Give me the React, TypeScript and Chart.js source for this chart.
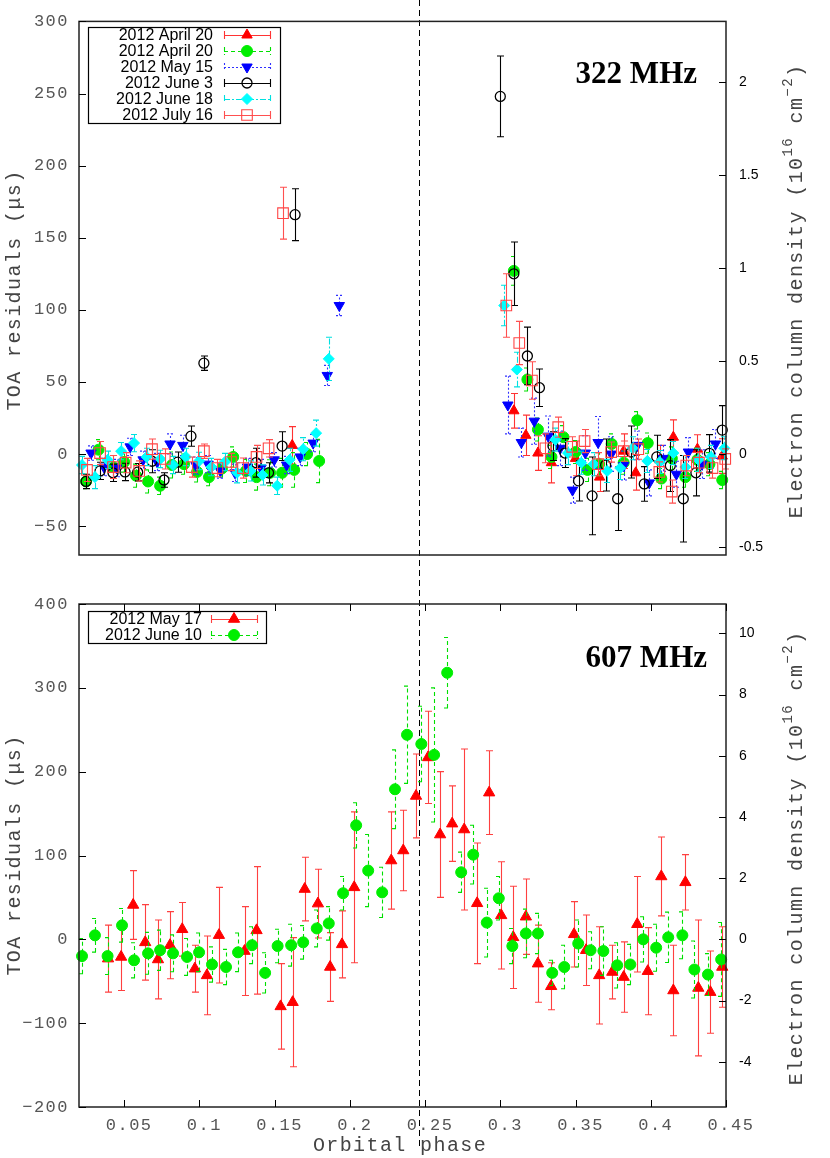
import React, { useEffect, useRef } from 'react';
import { Chart, registerables } from 'chart.js';
Chart.register(...registerables);

// ---------------- TOP PANEL (322 MHz) ----------------
const TOP_NAMES = ['2012 April 20', '2012 April 20', '2012 May 15', '2012 June 3', '2012 June 18', '2012 July 16'];

const T_APR20A_X = [0.1617, 0.309, 0.317, 0.325, 0.334, 0.350, 0.366, 0.382, 0.390, 0.406, 0.415, 0.431, 0.4475];
const T_APR20A_Y = [6, 30, 13, 0.7, -6, -3, -16, 2, -13, -4, 11.7, 3.4, -1.4];
const T_APR20A_E = [13, 12, 14, 12, 14, 12, 10, 12, 12, 10, 12, 10, 12];

const T_APR20B_X = [0.0247, 0.033, 0.0426, 0.050, 0.0579, 0.0659, 0.0739, 0.0818, 0.0898, 0.0985, 0.1064, 0.115, 0.1225, 0.131, 0.138, 0.147, 0.155, 0.163, 0.1716, 0.1796,
  0.309, 0.318, 0.325, 0.334, 0.342, 0.350, 0.358, 0.3657, 0.374, 0.382, 0.391, 0.398, 0.407, 0.414, 0.423, 0.431, 0.439, 0.4475];
const T_APR20B_Y = [-19, 3, -9, -5.5, -15, -19, -22, -7.6, -7, -12.4, -16, -10, -2, -11.7, -16, -13, -13, -11, 0, -4.8,
  127, 51.7, 17, -2, 11.7, 1.4, -11, -7, 7, -6, 23.4, 7.6, -17, -3, -16, -4, -7, -18];
const T_APR20B_E = [5, 7, 8, 7, 8, 8, 6, 9, 7, 7, 6, 6, 7, 8, 9, 9, 10, 12, 8, 15,
  10, 8, 8, 8, 8, 8, 8, 8, 7, 8, 6, 7, 7, 8, 7, 8, 8, 6];

const T_MAY15_X = [0.028, 0.0366, 0.045, 0.054, 0.0626, 0.072, 0.0805, 0.089, 0.0978, 0.1058, 0.114, 0.1237, 0.132, 0.141, 0.1497, 0.158, 0.167, 0.1756, 0.185, 0.193,
  0.305, 0.314, 0.3226, 0.3318, 0.3398, 0.348, 0.3565, 0.365, 0.3737, 0.382, 0.391, 0.399, 0.408, 0.417, 0.425, 0.434, 0.443];
const T_MAY15_Y = [0.7, -9, -9.7, 5, -4, -5.5, 7, 6, -8, -7, -11.7, -13, -9, -9.7, -4, -7.6, -2, 7.6, 54.5, 103,
  34, 8, 22.8, 12.4, 4, -25, 0.7, 8, 0, -8, 6, -20, -3, -14, 1.4, -7, 7];
const T_MAY15_E = [5, 6, 6, 6, 6, 6, 7, 7, 6, 6, 5, 6, 6, 6, 5, 6, 6, 6, 7, 7,
  20, 10, 16, 14, 12, 9, 12, 18, 12, 10, 10, 9, 9, 9, 10, 10, 10];

const T_JUN3_X = [0.0247, 0.034, 0.0426, 0.0506, 0.059, 0.0685, 0.0765, 0.0856, 0.0944, 0.103, 0.1377, 0.146, 0.155, 0.1636,
  0.300, 0.309, 0.318, 0.326, 0.335, 0.343, 0.352, 0.361, 0.370, 0.378, 0.387, 0.3957, 0.404, 0.413, 0.4216, 0.430, 0.439, 0.4475];
const T_JUN3_Y = [-19, -11.7, -13, -12.4, -12.6, -5, -18, -5.6, 12.4, 63, -6, -13, 5.5, 166,
  248, 125, 68, 46, 5.5, 0.7, -18.6, -29, -7.6, -31, 1.4, -20.7, -2, -8, -31, -13, 0.5, 16.6];
const T_JUN3_E = [5, 6, 6, 6, 6, 8, 5, 7, 7, 5, 10, 7, 10, 18,
  28, 22, 20, 13, 10, 10, 14, 27, 18, 22, 18, 12, 15, 18, 30, 16, 13, 17];

const T_JUN18_X = [0.022, 0.0306, 0.039, 0.048, 0.0566, 0.065, 0.074, 0.0825, 0.091, 0.0998, 0.108, 0.117, 0.125, 0.134, 0.142, 0.1517, 0.160, 0.169, 0.1776, 0.186,
  0.3026, 0.311, 0.3366, 0.345, 0.3538, 0.362, 0.371, 0.3797, 0.388, 0.3977, 0.406, 0.415, 0.423, 0.4316, 0.440, 0.4489];
const T_JUN18_Y = [-7.6, -16, -4, 2, 7.6, -2, -3.4, -7.6, -2, -4.8, -9, -5.5, -13, -11.7, -14.5, -22, -4, 3.4, 14.5, 66,
  103, 58.6, 10, 0.7, -6, -7, -11.7, -9.7, 4, -4.8, -5.5, 0.7, -9, -4, -2, 4];
const T_JUN18_E = [6, 8, 6, 6, 6, 6, 6, 6, 6, 6, 6, 6, 7, 7, 7, 6, 8, 8, 9, 15,
  14, 12, 8, 8, 8, 8, 8, 8, 8, 8, 8, 8, 8, 8, 8, 8];

const T_JUL16_X = [0.0253, 0.034, 0.0426, 0.051, 0.060, 0.0685, 0.077, 0.095, 0.103, 0.112, 0.121, 0.129, 0.138, 0.146, 0.1556,
  0.304, 0.3126, 0.321, 0.330, 0.3385, 0.3478, 0.356, 0.365, 0.3737, 0.382, 0.3917, 0.4057, 0.414, 0.4236, 0.432, 0.441, 0.4495];
const T_JUL16_Y = [-11, 0.7, -9, -6, -11.7, 3.4, -3.4, -9, 2, -9.7, -5.5, -9.7, -2, 4, 167,
  103, 77, 51, 4, 18.6, 5, 9, -7, 1.4, 2, 3.4, -12.4, -26, -8, -6, -9.7, -3.4];
const T_JUL16_E = [8, 8, 8, 7, 7, 7, 7, 7, 5, 6, 6, 7, 8, 6, 18,
  22, 15, 13, 10, 7, 7, 8, 8, 7, 7, 7, 7, 8, 7, 7, 7, 7];

const TOP_LEFT_TICKS = [-50, 0, 50, 100, 150, 200, 250, 300];
const TOP_LEFT_LABELS = ['\u221250', '0', '50', '100', '150', '200', '250', '300'];
const TOP_RIGHT_TICKS = [-0.5, 0, 0.5, 1, 1.5, 2];
const TOP_RIGHT_LABELS = ['-0.5', '0', '0.5', '1', '1.5', '2'];
const TOP_Y_MIN = -70;
const TOP_Y_MAX = 300;
const TOP_DENSITY_SCALE = 129; // µs per 10^16 cm^-2

// ---------------- BOTTOM PANEL (607 MHz) ----------------
const BOT_NAMES = ['2012 May 17', '2012 June 10'];

const B_MAY17_X = [0.0393, 0.048, 0.056, 0.064, 0.0725, 0.0805, 0.0886, 0.097, 0.105, 0.113, 0.130, 0.138, 0.154, 0.162, 0.170, 0.1788, 0.1869, 0.1948, 0.2029,
  0.2275, 0.2355, 0.244, 0.252, 0.260, 0.268, 0.276, 0.2846, 0.2926, 0.3006, 0.3086, 0.317, 0.325, 0.3338, 0.349, 0.357, 0.3657, 0.3744, 0.382, 0.391, 0.398,
  0.407, 0.415, 0.423, 0.4316, 0.4396, 0.4475];
const B_MAY17_Y = [-23, -21, 41, -3.6, -24, -7, 12, -35, -43, 5, -14, 10.7, -80, -75, 60, 42.6, -33, -6, 62,
  94, 106, 171, 217, 125, 138, 131, 43, 175, 28.6, 2.4, 27, -29, -56, 6, -13, -43, -39, -45, 18, -38,
  75, -61, 68, -58, -63, -33];
const B_MAY17_E = [40, 40, 41, 45, 47, 40, 32, 28, 47, 57, 53, 76, 51, 77, 38, 41, 41, 40, 90,
  58, 48, 50, 55, 75, 45, 96, 72, 50, 64, 61, 45, 46, 28, 39, 42, 58, 32, 42, 57, 52,
  47, 54, 33, 81, 49, 48];

const B_JUN10_X = [0.022, 0.0306, 0.039, 0.0486, 0.0566, 0.0659, 0.0739, 0.0825, 0.0918, 0.0998, 0.1084, 0.1177, 0.1257, 0.135, 0.1437, 0.152, 0.161, 0.169, 0.178, 0.186,
  0.1955, 0.2042, 0.2122, 0.2215, 0.230, 0.238, 0.2475, 0.256, 0.2647, 0.274, 0.282, 0.291, 0.299, 0.308, 0.317, 0.325, 0.3345, 0.3425, 0.3518, 0.360,
  0.3685, 0.3777, 0.3864, 0.395, 0.4036, 0.4116, 0.421, 0.429, 0.438, 0.4468];
const B_JUN10_Y = [-20, 4.8, -20, 16.7, -25, -16.7, -13, -16.7, -21, -15.5, -30, -33, -15.5, -7, -40, -8, -7, -3.6, 13, 19,
  55, 136, 82, 56, 179, 244, 233, 220, 318, 80, 101, 20, 49, -8, 7, 7, -40, -33, -5, -13,
  -14, -31, -30, 0, -10, 2.4, 4.8, -36, -42, -24];
const B_JUN10_E = [21, 20, 22, 20, 21, 25, 24, 22, 22, 23, 21, 21, 23, 22, 24, 20, 25, 20, 22, 20,
  20, 27, 43, 30, 47, 58, 45, 80, 42, 24, 35, 41, 26, 21, 29, 24, 15, 26, 28, 22,
  29, 27, 24, 27, 28, 30, 28, 34, 25, 44];

const BOT_LEFT_TICKS = [-200, -100, 0, 100, 200, 300, 400];
const BOT_LEFT_LABELS = ['\u2212200', '\u2212100', '0', '100', '200', '300', '400'];
const BOT_RIGHT_TICKS = [-4, -2, 0, 2, 4, 6, 8, 10];
const BOT_RIGHT_LABELS = ['-4', '-2', '0', '2', '4', '6', '8', '10'];
const BOT_Y_MIN = -200;
const BOT_Y_MAX = 400;
const BOT_DENSITY_SCALE = 36.5;

const X_MIN = 0.02;
const X_MAX = 0.45;
const X_TICKS = [0.05, 0.1, 0.15, 0.2, 0.25, 0.3, 0.35, 0.4, 0.45];
const X_TICK_LABELS = ['0.05', '0.1', '0.15', '0.2', '0.25', '0.3', '0.35', '0.4', '0.45'];
const CONJUNCTION_PHASE = 0.246;

// ---------------- styles ----------------
const TOP_STYLES = [
  { style: 'triangle', rot: 0, r: 6, fill: '#ff0000', stroke: '#ff0000', lw: 1, err: 'rgba(255,0,0,0.8)', dash: [] },
  { style: 'circle', rot: 0, r: 5.5, fill: '#00ee00', stroke: '#00ee00', lw: 1, err: '#00e000', dash: [4, 3] },
  { style: 'triangle', rot: 180, r: 6, fill: '#0000ff', stroke: '#0000ff', lw: 1, err: '#3030ff', dash: [2, 2] },
  { style: 'circle', rot: 0, r: 5, fill: null, stroke: '#000000', lw: 1.3, err: '#000000', dash: [] },
  { style: 'rectRot', rot: 0, r: 5.5, fill: '#00ffff', stroke: '#00ffff', lw: 1, err: '#00e0e0', dash: [6, 2, 2, 2] },
  { style: 'rect', rot: 0, r: 7.5, fill: null, stroke: '#ff4545', lw: 1.1, err: '#ff5050', dash: [] },
];
const BOT_STYLES = [
  { style: 'triangle', rot: 0, r: 6.5, fill: '#ff0000', stroke: '#ff0000', lw: 1, err: 'rgba(255,0,0,0.75)', dash: [] },
  { style: 'circle', rot: 0, r: 5.5, fill: '#00ee00', stroke: '#00ee00', lw: 1, err: '#00e000', dash: [4, 3] },
];

const MONO = '"Liberation Mono", "DejaVu Sans Mono", monospace';
const SANS = '"Liberation Sans", Arial, sans-serif';
const SERIF = '"Liberation Serif", "Times New Roman", serif';

function drawMarker(ctx, st, x, y) {
  const r = st.r;
  ctx.beginPath();
  if (st.style === 'circle') {
    ctx.arc(x, y, r, 0, Math.PI * 2);
  } else if (st.style === 'rect') {
    const s = r * Math.SQRT1_2;
    ctx.rect(x - s, y - s, 2 * s, 2 * s);
  } else if (st.style === 'rectRot') {
    ctx.moveTo(x, y - r); ctx.lineTo(x + r, y); ctx.lineTo(x, y + r); ctx.lineTo(x - r, y); ctx.closePath();
  } else {
    let a = (st.rot * Math.PI) / 180;
    ctx.moveTo(x + Math.sin(a) * r, y - Math.cos(a) * r);
    for (let k = 0; k < 2; k++) { a += (2 * Math.PI) / 3; ctx.lineTo(x + Math.sin(a) * r, y - Math.cos(a) * r); }
    ctx.closePath();
  }
  if (st.fill) { ctx.fillStyle = st.fill; ctx.fill(); }
  ctx.strokeStyle = st.stroke; ctx.lineWidth = st.lw; ctx.setLineDash([]); ctx.stroke();
}

const errorBarPlugin = {
  id: 'errbars',
  beforeDatasetDraw(chart, args) {
    const ds = chart.data.datasets[args.index];
    const meta = args.meta;
    const ctx = chart.ctx;
    const xs = meta.xScale, ys = meta.yScale;
    ctx.save();
    ctx.strokeStyle = ds.errColor;
    ctx.lineWidth = 1.1;
    ctx.setLineDash(ds.errDash);
    ds.data.forEach((p, i) => {
      const e = ds.errs[i];
      const x = Math.round(xs.getPixelForValue(p.x)) + 0.5;
      const y1 = ys.getPixelForValue(p.y - e);
      const y2 = ys.getPixelForValue(p.y + e);
      ctx.beginPath();
      ctx.moveTo(x, y1); ctx.lineTo(x, y2);
      ctx.moveTo(x - 3.5, y1); ctx.lineTo(x + 3.5, y1);
      ctx.moveTo(x - 3.5, y2); ctx.lineTo(x + 3.5, y2);
      ctx.stroke();
    });
    ctx.restore();
  },
};

function makeDecor(cfg) {
  return {
    id: 'decor',
    beforeDraw(chart) {
      ['x', 'y'].forEach((id) => {
        const s = chart.scales[id];
        if (s && !s.__spaced) {
          const orig = s.drawLabels.bind(s);
          s.drawLabels = (area) => {
            const ctx = chart.ctx;
            const prev = ctx.letterSpacing;
            ctx.letterSpacing = '1.5px';
            orig(area);
            ctx.letterSpacing = prev || '0px';
          };
          s.__spaced = true;
        }
      });
    },
    beforeDatasetsDraw(chart) {
      const ctx = chart.ctx;
      const x = Math.round(chart.scales.x.getPixelForValue(cfg.vline)) + 0.5;
      ctx.save();
      ctx.strokeStyle = '#000';
      ctx.lineWidth = 1;
      ctx.setLineDash([6, 4]);
      ctx.beginPath();
      ctx.moveTo(x, cfg.vy0); ctx.lineTo(x, cfg.vy1);
      ctx.stroke();
      ctx.restore();
    },
    afterDraw(chart) {
      const ctx = chart.ctx;
      const a = chart.chartArea;
      ctx.save();
      ctx.letterSpacing = '0px';
      // frame
      ctx.strokeStyle = '#222';
      ctx.lineWidth = 1.5;
      ctx.setLineDash([]);
      ctx.strokeRect(a.left, a.top, a.right - a.left, a.bottom - a.top);
      // inward ticks
      ctx.lineWidth = 1;
      ctx.strokeStyle = '#000';
      ctx.beginPath();
      chart.scales.y.ticks.forEach((t) => {
        const y = Math.round(chart.scales.y.getPixelForValue(t.value)) + 0.5;
        ctx.moveTo(a.left, y); ctx.lineTo(a.left + 7, y);
      });
      chart.scales.y2.ticks.forEach((t) => {
        const y = Math.round(chart.scales.y2.getPixelForValue(t.value)) + 0.5;
        ctx.moveTo(a.right - 7, y); ctx.lineTo(a.right, y);
      });
      if (cfg.xTicks) {
        chart.scales.x.ticks.forEach((t) => {
          const x = Math.round(chart.scales.x.getPixelForValue(t.value)) + 0.5;
          ctx.moveTo(x, a.bottom); ctx.lineTo(x, a.bottom - 7);
          ctx.moveTo(x, a.top); ctx.lineTo(x, a.top + 7);
        });
      }
      ctx.stroke();

      // legend
      const L = cfg.legend;
      ctx.fillStyle = '#fff';
      ctx.fillRect(L.box[0], L.box[1], L.box[2] - L.box[0], L.box[3] - L.box[1]);
      ctx.strokeStyle = '#000';
      ctx.lineWidth = 1.2;
      ctx.strokeRect(L.box[0] + 0.5, L.box[1] + 0.5, L.box[2] - L.box[0], L.box[3] - L.box[1]);
      L.names.forEach((name, i) => {
        const st = L.styles[i];
        const y = L.rows[i];
        ctx.fillStyle = '#000';
        ctx.font = '16px ' + SANS;
        ctx.textAlign = 'right';
        ctx.textBaseline = 'middle';
        ctx.fillText(name, L.textRight, y + 1);
        ctx.strokeStyle = st.err;
        ctx.lineWidth = 1.1;
        ctx.setLineDash(st.dash);
        ctx.beginPath();
        ctx.moveTo(L.sx1, y + 0.5); ctx.lineTo(L.sx2, y + 0.5);
        ctx.moveTo(L.sx1 + 0.5, y - 4); ctx.lineTo(L.sx1 + 0.5, y + 4);
        ctx.moveTo(L.sx2 + 0.5, y - 4); ctx.lineTo(L.sx2 + 0.5, y + 4);
        ctx.stroke();
        drawMarker(ctx, st, (L.sx1 + L.sx2) / 2, y);
      });

      // frequency label
      ctx.fillStyle = '#000';
      ctx.font = 'bold 31px ' + SERIF;
      ctx.textAlign = 'right';
      ctx.textBaseline = 'alphabetic';
      ctx.fillText(cfg.freq.text, cfg.freq.x, cfg.freq.y);

      // left axis title
      ctx.fillStyle = '#444';
      ctx.font = '20px ' + MONO;
      ctx.letterSpacing = '1.4px';
      ctx.textAlign = 'center';
      ctx.textBaseline = 'middle';
      ctx.save();
      ctx.translate(15, cfg.leftTitleY);
      ctx.rotate(-Math.PI / 2);
      ctx.fillText('TOA residuals (\u03bcs)', 0, 0);
      ctx.restore();

      // right axis title with superscripts
      const parts = [
        { t: 'Electron column density (10', sup: false },
        { t: '16', sup: true },
        { t: ' cm', sup: false },
        { t: '\u22122', sup: true },
        { t: ')', sup: false },
      ];
      ctx.save();
      ctx.translate(797, cfg.rightTitleY);
      ctx.rotate(-Math.PI / 2);
      ctx.textAlign = 'left';
      let total = 0;
      parts.forEach((p) => {
        ctx.font = (p.sup ? '14px ' : '20px ') + MONO;
        total += ctx.measureText(p.t).width;
      });
      let cx = -total / 2;
      parts.forEach((p) => {
        ctx.font = (p.sup ? '14px ' : '20px ') + MONO;
        ctx.fillText(p.t, cx, p.sup ? -9 : 0);
        cx += ctx.measureText(p.t).width;
      });
      ctx.restore();

      if (cfg.xTitle) {
        ctx.font = '20px ' + MONO;
        ctx.textAlign = 'center';
        ctx.textBaseline = 'middle';
        ctx.fillText('Orbital phase', cfg.xTitle.x, cfg.xTitle.y);
      }
      ctx.restore();
    },
  };
}

function buildDatasets(xsArr, ysArr, esArr, styles, names, axis) {
  const n = styles.length;
  return styles.map((st, i) => ({
    label: names[i],
    data: xsArr[i].map((x, k) => ({ x, y: ysArr[i][k] })),
    errs: esArr[i],
    errColor: st.err,
    errDash: st.dash,
    yAxisID: axis,
    showLine: false,
    pointStyle: st.style,
    pointRotation: st.rot,
    pointRadius: st.r,
    pointHoverRadius: st.r,
    pointBackgroundColor: st.fill || 'rgba(0,0,0,0)',
    pointBorderColor: st.stroke,
    pointBorderWidth: st.lw,
    backgroundColor: st.fill || 'rgba(0,0,0,0)',
    borderColor: st.stroke,
    clip: false,
    order: n - i,
  }));
}

function yScales(min, max, dens, leftTicks, leftLabels, rightTicks, rightLabels) {
  return {
    y: {
      type: 'linear', position: 'left', min, max,
      afterFit: (s) => { s.width = 79; },
      afterBuildTicks: (s) => { s.ticks = leftTicks.map((v) => ({ value: v })); },
      ticks: { callback: (v, i) => leftLabels[i], font: { family: MONO, size: 17 }, color: '#555', padding: 10 },
      grid: { display: false, drawTicks: false },
      border: { display: false },
    },
    y2: {
      type: 'linear', position: 'right', min: min / dens, max: max / dens,
      afterFit: (s) => { s.width = 104; },
      afterBuildTicks: (s) => { s.ticks = rightTicks.map((v) => ({ value: v })); },
      ticks: { callback: (v, i) => rightLabels[i], font: { family: SANS, size: 14 }, color: '#000', padding: 13 },
      grid: { display: false, drawTicks: false },
      border: { display: false },
    },
  };
}

function topConfig() {
  const datasets = buildDatasets(
    [T_APR20A_X, T_APR20B_X, T_MAY15_X, T_JUN3_X, T_JUN18_X, T_JUL16_X],
    [T_APR20A_Y, T_APR20B_Y, T_MAY15_Y, T_JUN3_Y, T_JUN18_Y, T_JUL16_Y],
    [T_APR20A_E, T_APR20B_E, T_MAY15_E, T_JUN3_E, T_JUN18_E, T_JUL16_E],
    TOP_STYLES, TOP_NAMES, 'y');
  return {
    type: 'scatter',
    data: { datasets },
    options: {
      responsive: false, animation: false, devicePixelRatio: 1,
      layout: { padding: { top: 20, bottom: 25, left: 0, right: 0 } },
      plugins: { legend: { display: false }, tooltip: { enabled: false } },
      scales: {
        x: { type: 'linear', min: X_MIN, max: X_MAX, display: false },
        ...yScales(TOP_Y_MIN, TOP_Y_MAX, TOP_DENSITY_SCALE, TOP_LEFT_TICKS, TOP_LEFT_LABELS, TOP_RIGHT_TICKS, TOP_RIGHT_LABELS),
      },
    },
    plugins: [errorBarPlugin, makeDecor({
      vline: CONJUNCTION_PHASE, vy0: 0, vy1: 580, xTicks: false,
      legend: { box: [88, 27, 280, 123], rows: [35, 51, 67, 83, 99, 115], textRight: 213, sx1: 224, sx2: 270, names: TOP_NAMES, styles: TOP_STYLES },
      freq: { text: '322 MHz', x: 697, y: 83 },
      leftTitleY: 290, rightTitleY: 291, xTitle: null,
    })],
  };
}

function botConfig() {
  const datasets = buildDatasets(
    [B_MAY17_X, B_JUN10_X], [B_MAY17_Y, B_JUN10_Y], [B_MAY17_E, B_JUN10_E],
    BOT_STYLES, BOT_NAMES, 'y');
  return {
    type: 'scatter',
    data: { datasets },
    options: {
      responsive: false, animation: false, devicePixelRatio: 1,
      layout: { padding: { top: 24, bottom: 0, left: 0, right: 0 } },
      plugins: { legend: { display: false }, tooltip: { enabled: false } },
      scales: {
        x: {
          type: 'linear', min: X_MIN, max: X_MAX, position: 'bottom',
          afterFit: (s) => { s.height = 51; },
          afterBuildTicks: (s) => { s.ticks = X_TICKS.map((v) => ({ value: v })); },
          ticks: { callback: (v, i) => X_TICK_LABELS[i], font: { family: MONO, size: 17 }, color: '#555', padding: 8, labelOffset: 5, maxRotation: 0, autoSkip: false },
          grid: { display: false, drawTicks: false },
          border: { display: false },
        },
        ...yScales(BOT_Y_MIN, BOT_Y_MAX, BOT_DENSITY_SCALE, BOT_LEFT_TICKS, BOT_LEFT_LABELS, BOT_RIGHT_TICKS, BOT_RIGHT_LABELS),
      },
    },
    plugins: [errorBarPlugin, makeDecor({
      vline: CONJUNCTION_PHASE, vy0: 0, vy1: 570, xTicks: true,
      legend: { box: [88, 31, 266, 63], rows: [39, 55], textRight: 202, sx1: 211, sx2: 257, names: BOT_NAMES, styles: BOT_STYLES },
      freq: { text: '607 MHz', x: 707, y: 87 },
      leftTitleY: 275, rightTitleY: 278, xTitle: { x: 400, y: 566 },
    })],
  };
}

export default function App() {
  const topRef = useRef(null);
  const botRef = useRef(null);
  useEffect(() => {
    const c1 = new Chart(topRef.current, topConfig());
    const c2 = new Chart(botRef.current, botConfig());
    return () => { c1.destroy(); c2.destroy(); };
  }, []);
  return (
    <div style={{ position: 'absolute', left: 0, top: 0, width: 830, height: 1158, background: '#fff' }}>
      <canvas ref={topRef} width={830} height={580} style={{ position: 'absolute', left: 0, top: 0, width: 830, height: 580 }} />
      <canvas ref={botRef} width={830} height={578} style={{ position: 'absolute', left: 0, top: 580, width: 830, height: 578 }} />
    </div>
  );
}
